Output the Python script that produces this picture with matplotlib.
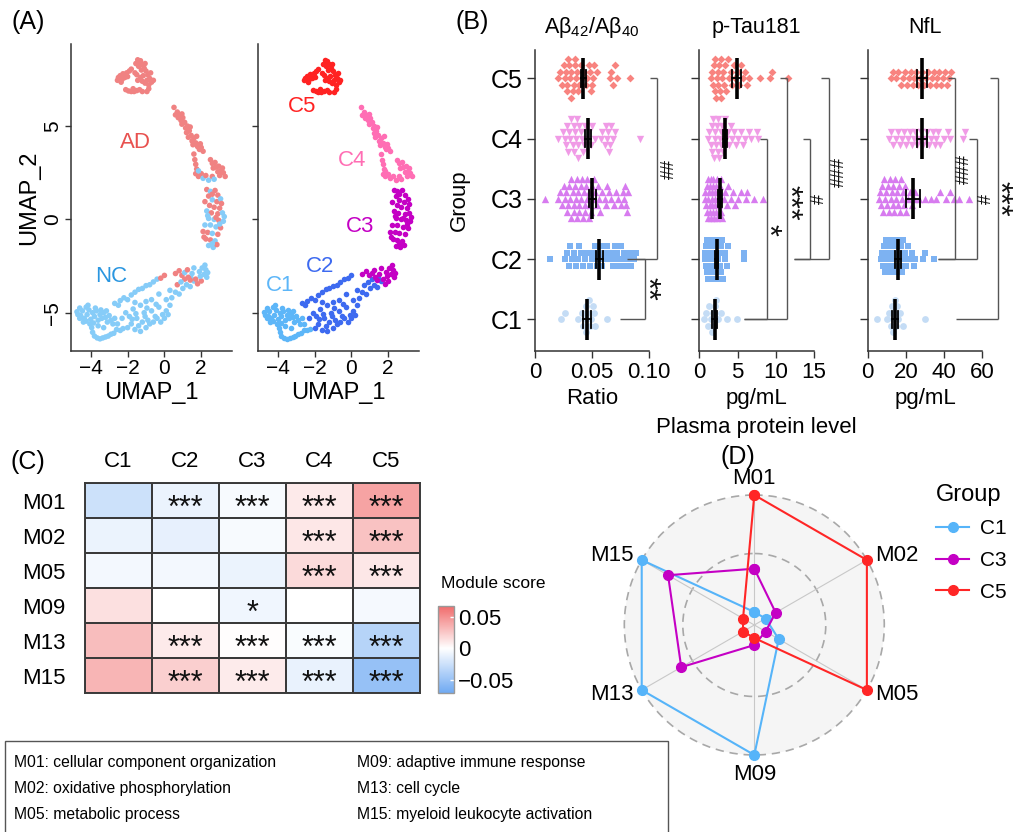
import numpy as np
import matplotlib
matplotlib.use("Agg")
import matplotlib.pyplot as plt
from matplotlib.colors import LinearSegmentedColormap, Normalize
from matplotlib.patches import Rectangle

plt.rcParams['font.family'] = ['Liberation Sans', 'DejaVu Sans']
plt.rcParams['axes.unicode_minus'] = True

W, H = 1013, 832
fig = plt.figure(figsize=(W / 100, H / 100), dpi=100)


def px_axes(x0, y0, x1, y1, **kw):
    return fig.add_axes([x0 / W, 1 - y1 / H, (x1 - x0) / W, (y1 - y0) / H], **kw)


def ftext(x, y, s, **kw):
    return fig.text(x / W, 1 - y / H, s, **kw)

# ======================= DATA =======================
# ---- Panel A : UMAP embedding (x, y, diagnosis A=AD / N=NC) per cluster
umap_c1 = [(-4.75, -4.95, 'N'), (-4.60, -4.75, 'N'), (-4.55, -5.15, 'N'), (-4.45, -4.90, 'N'), (-4.35, -5.30, 'N'),
           (-4.25, -4.70, 'N'), (-4.20, -5.10, 'N'), (-4.10, -4.85, 'N'), (-4.00, -5.35, 'N'), (-3.90, -5.00, 'N'),
           (-3.80, -5.20, 'N'), (-3.70, -4.90, 'N'), (-3.60, -5.40, 'N'), (-3.50, -5.10, 'N'), (-3.40, -5.30, 'N'),
           (-3.30, -5.00, 'N'), (-3.20, -5.25, 'N'), (-3.10, -5.50, 'N'), (-3.00, -5.15, 'N'), (-2.90, -5.40, 'N'),
           (-2.80, -5.60, 'N'), (-2.70, -5.30, 'N'), (-2.60, -5.90, 'N'), (-2.40, -5.95, 'N'), (-2.25, -5.85, 'N'),
           (-3.95, -5.80, 'N'), (-3.90, -6.05, 'N'), (-3.80, -6.25, 'N'), (-3.65, -6.35, 'N'), (-3.50, -6.40, 'N'),
           (-3.35, -6.35, 'N'), (-3.20, -6.30, 'N'), (-3.05, -6.25, 'N'), (-2.90, -6.15, 'N'), (-2.75, -6.10, 'N'),
           (-4.05, -5.60, 'N'), (-3.60, -5.70, 'N'), (-3.30, -5.80, 'N'), (-4.40, -5.50, 'N'), (-4.60, -5.30, 'N'),
           (-4.70, -5.10, 'N'), (-4.15, -4.60, 'N'), (-3.75, -4.75, 'N'), (-3.45, -4.85, 'N'), (-3.15, -4.90, 'N'),
           (-2.55, -5.60, 'N'), (-3.85, -5.55, 'N'), (-4.25, -5.45, 'N')]
umap_c2 = [(-2.70, -4.50, 'N'), (-2.50, -4.60, 'N'), (-2.40, -4.35, 'N'), (-2.20, -4.20, 'N'), (-2.00, -4.30, 'N'),
           (-1.80, -4.05, 'N'), (-1.60, -3.90, 'N'), (-1.40, -3.75, 'N'), (-1.20, -3.70, 'N'), (-1.00, -3.55, 'N'),
           (-0.80, -3.50, 'N'), (-0.60, -3.35, 'N'), (-0.40, -3.20, 'N'), (-0.20, -3.15, 'A'), (0.00, -3.00, 'A'),
           (-2.10, -5.00, 'N'), (-1.90, -5.20, 'N'), (-1.70, -4.80, 'N'), (-1.50, -5.30, 'N'), (-1.30, -4.60, 'N'),
           (-1.10, -5.00, 'N'), (-0.90, -5.40, 'N'), (-0.70, -4.90, 'N'), (-0.50, -5.20, 'N'), (-0.30, -4.70, 'N'),
           (-0.10, -5.10, 'N'), (0.10, -4.90, 'N'), (0.30, -4.60, 'N'), (-2.00, -5.80, 'N'), (-1.80, -5.60, 'N'),
           (-1.60, -5.90, 'N'), (-1.40, -5.70, 'N'), (-1.20, -5.50, 'N'), (-1.00, -5.80, 'N'), (-0.80, -5.60, 'N'),
           (-0.60, -5.50, 'N'), (-0.40, -5.30, 'N'), (-0.20, -5.50, 'N'), (0.00, -5.30, 'N'), (-1.30, -6.00, 'N'),
           (0.40, -4.20, 'N'), (0.60, -3.90, 'N'), (0.80, -4.00, 'N'), (1.00, -3.70, 'N'), (1.20, -3.50, 'N'),
           (1.40, -3.60, 'N'), (1.60, -3.30, 'N'), (0.70, -3.50, 'A'), (1.10, -3.20, 'A'), (0.30, -3.80, 'N'),
           (-0.70, -4.30, 'N'), (-1.00, -4.40, 'N'), (-0.30, -4.00, 'N'), (0.10, -4.30, 'N'), (-1.60, -4.45, 'N'),
           (-2.30, -5.30, 'N'), (-1.75, -5.35, 'N'), (-1.05, -5.20, 'N'), (-0.45, -4.55, 'N'), (0.20, -5.10, 'N'),
           (-0.95, -4.75, 'N'), (0.90, -3.35, 'N'), (1.45, -3.15, 'N'), (-1.55, -5.05, 'N')]
umap_c3 = [(2.30, 1.60, 'A'), (2.50, 1.50, 'N'), (2.75, 1.55, 'A'), (2.90, 1.30, 'A'), (2.40, 1.25, 'A'),
           (2.60, 1.05, 'N'), (2.20, 0.95, 'A'), (2.85, 0.95, 'A'), (3.05, 1.10, 'N'), (2.45, 0.75, 'A'),
           (2.70, 0.65, 'A'), (3.00, 0.60, 'A'), (2.30, 0.45, 'N'), (2.55, 0.35, 'A'), (2.90, 0.30, 'A'),
           (3.15, 0.35, 'N'), (2.40, 0.05, 'N'), (2.70, 0.00, 'N'), (2.95, -0.05, 'A'), (3.20, -0.10, 'N'),
           (2.20, -0.30, 'N'), (2.50, -0.30, 'N'), (2.80, -0.40, 'N'), (3.05, -0.45, 'A'), (2.10, -0.65, 'A'),
           (2.35, -0.70, 'A'), (2.60, -0.75, 'N'), (2.90, -0.80, 'A'), (2.25, -1.05, 'A'), (2.50, -1.10, 'A'),
           (2.75, -1.15, 'N'), (2.40, -1.40, 'N'), (2.65, -1.50, 'N'), (2.85, -1.35, 'A'),
           (2.60, 1.35, 'A'), (3.10, 0.85, 'A'), (2.35, 0.20, 'N'), (3.00, -0.25, 'N'), (2.15, -0.95, 'A'),
           (2.60, -1.30, 'N'), (2.80, 0.10, 'A'), (3.25, 0.15, 'N'),
           (0.60, -2.90, 'A'), (0.80, -2.75, 'A'), (0.95, -3.00, 'A'), (1.10, -2.85, 'N'), (1.30, -3.10, 'A'),
           (1.50, -2.90, 'N'), (1.70, -3.20, 'A'), (1.90, -2.80, 'N'), (2.05, -2.60, 'N'), (2.20, -2.45, 'N'),
           (2.15, -2.95, 'N'), (2.00, -3.30, 'A'), (1.80, -3.45, 'A'), (2.30, -3.10, 'N'), (1.60, -2.60, 'N'),
           (1.25, -2.70, 'A'), (2.25, -2.70, 'N'), (1.95, -3.05, 'N'), (2.35, -2.85, 'N'), (1.40, -3.25, 'A')]
umap_c4 = [(0.52, 6.00, 'A'), (0.60, 5.60, 'A'), (0.70, 5.75, 'A'), (0.75, 5.45, 'A'), (0.85, 5.60, 'A'),
           (0.90, 5.30, 'A'), (1.00, 5.45, 'A'), (0.95, 5.10, 'A'), (1.10, 5.20, 'A'), (1.15, 4.90, 'A'),
           (1.25, 5.00, 'A'), (1.20, 4.65, 'A'), (1.35, 4.75, 'A'), (1.30, 4.40, 'A'), (1.45, 4.50, 'A'),
           (1.50, 4.20, 'A'), (1.60, 4.35, 'A'), (1.55, 4.00, 'A'), (1.70, 4.10, 'A'), (1.80, 3.90, 'A'),
           (1.90, 3.75, 'A'), (2.00, 3.85, 'A'), (2.10, 3.65, 'A'), (1.60, 3.50, 'A'), (1.65, 3.20, 'A'),
           (1.70, 2.95, 'A'), (1.75, 2.70, 'A'), (1.70, 2.45, 'A'), (2.50, 3.20, 'A'), (2.60, 3.00, 'A'),
           (2.75, 3.05, 'A'), (2.80, 2.80, 'A'), (2.95, 2.85, 'A'), (3.05, 2.60, 'A'), (3.20, 2.50, 'A'),
           (3.30, 2.30, 'A'), (2.90, 2.55, 'A'), (3.15, 2.75, 'A'), (1.85, 2.30, 'A'), (2.00, 2.45, 'A'),
           (2.10, 2.20, 'N'), (2.25, 2.35, 'A'), (2.40, 2.10, 'N'), (2.60, 2.30, 'A'), (2.70, 2.15, 'N'),
           (0.95, 5.65, 'A'), (1.40, 4.95, 'A'), (1.75, 4.45, 'A'), (1.95, 4.05, 'A'), (2.65, 2.75, 'A'),
           (3.00, 2.35, 'A'), (1.85, 2.60, 'N')]
umap_c5 = [(-2.50, 7.60, 'A'), (-2.40, 7.70, 'A'), (-2.30, 7.50, 'A'), (-2.25, 7.80, 'A'), (-2.15, 7.60, 'A'),
           (-2.05, 7.85, 'A'), (-2.00, 7.65, 'A'), (-2.35, 7.35, 'A'), (-1.90, 7.95, 'A'), (-1.80, 8.05, 'A'),
           (-1.45, 8.55, 'A'), (-1.35, 8.40, 'A'), (-1.30, 8.50, 'A'), (-1.20, 8.30, 'A'), (-1.40, 8.20, 'A'),
           (-1.10, 8.10, 'A'), (-1.25, 8.00, 'A'), (-1.00, 7.95, 'A'), (-0.90, 7.75, 'A'), (-0.80, 7.55, 'A'),
           (-0.95, 7.45, 'A'), (-0.70, 7.35, 'A'), (-1.05, 7.30, 'A'), (-0.85, 7.20, 'A'), (-1.15, 7.70, 'A'),
           (-1.30, 7.60, 'A'), (-1.20, 7.40, 'A'), (-0.60, 7.45, 'A'), (-1.50, 7.75, 'A'), (-1.60, 7.85, 'A'),
           (-2.10, 6.95, 'A'), (-1.95, 6.88, 'A'), (-1.80, 6.85, 'A'), (-1.65, 6.85, 'A'), (-1.50, 6.90, 'A'),
           (-1.35, 6.95, 'A'), (-1.70, 7.00, 'A'), (-1.20, 6.85, 'A'), (-0.95, 6.85, 'A'), (-0.85, 7.00, 'A'),
           (-2.55, 7.45, 'A'), (-1.55, 8.35, 'A'), (-1.05, 8.35, 'A'), (-0.75, 7.85, 'A'), (-1.45, 7.45, 'A')]
cluster_names = ["C1", "C2", "C3", "C4", "C5"]

# ---- Panel B : plasma protein levels per cluster
ab_c1 = [0.023, 0.026, 0.038, 0.041, 0.0425, 0.0435, 0.0445, 0.045, 0.046, 0.047, 0.048, 0.049, 0.0505, 0.0515,
         0.053, 0.063]
ab_c2 = [0.013, 0.0265, 0.028, 0.030, 0.031, 0.0325, 0.0345, 0.036, 0.038, 0.039, 0.0405, 0.042, 0.0435, 0.046,
         0.048, 0.050, 0.051, 0.0525, 0.054, 0.055, 0.0565, 0.058, 0.059, 0.0605, 0.062, 0.0635, 0.066, 0.067, 0.068,
         0.070, 0.071, 0.072, 0.074, 0.075, 0.076, 0.078, 0.079, 0.082, 0.083, 0.084, 0.087, 0.089]
ab_c3 = [0.009, 0.0205, 0.022, 0.024, 0.025, 0.026, 0.0275, 0.028, 0.029, 0.030, 0.031, 0.0315, 0.032, 0.033, 0.034,
         0.0345, 0.035, 0.036, 0.0365, 0.037, 0.038, 0.0385, 0.039, 0.040, 0.0405, 0.041, 0.042, 0.043, 0.0435, 0.044,
         0.045, 0.0455, 0.046, 0.047, 0.0475, 0.048, 0.049, 0.050, 0.051, 0.052, 0.053, 0.054, 0.055, 0.056, 0.057,
         0.059, 0.061, 0.062, 0.063, 0.065, 0.067, 0.069, 0.071, 0.073, 0.075, 0.077, 0.078, 0.079, 0.080, 0.081, 0.082]
ab_c4 = [0.020, 0.0245, 0.026, 0.0275, 0.028, 0.029, 0.030, 0.031, 0.032, 0.033, 0.034, 0.0345, 0.035, 0.036, 0.037,
         0.0375, 0.038, 0.039, 0.040, 0.041, 0.042, 0.043, 0.044, 0.046, 0.047, 0.049, 0.050, 0.053, 0.058, 0.059,
         0.061, 0.062, 0.063, 0.064, 0.065, 0.066, 0.067, 0.068, 0.070, 0.092]
ab_c5 = [0.0205, 0.022, 0.0235, 0.025, 0.026, 0.027, 0.028, 0.0285, 0.029, 0.030, 0.031, 0.0315, 0.032, 0.033, 0.034,
         0.035, 0.0355, 0.036, 0.037, 0.038, 0.039, 0.040, 0.041, 0.043, 0.045, 0.046, 0.047, 0.048, 0.049, 0.050,
         0.051, 0.052, 0.054, 0.066, 0.067, 0.068, 0.070, 0.072, 0.083]
ab_mean = [0.0453, 0.0565, 0.0503, 0.0468, 0.0424]
ab_sem = [0.0035, 0.0032, 0.0030, 0.0026, 0.0022]

pt_c1 = [0.6, 0.9, 1.1, 1.3, 1.5, 1.6, 1.8, 1.9, 2.1, 2.2, 2.5, 2.8, 3.6, 4.9]
pt_c2 = [0.7, 0.8, 0.85, 0.9, 1.0, 1.05, 1.1, 1.15, 1.2, 1.3, 1.35, 1.4, 1.45, 1.5, 1.55, 1.6, 1.7, 1.75, 1.8, 1.85,
         1.9, 2.0, 2.05, 2.1, 2.2, 2.3, 2.35, 2.4, 2.5, 2.6, 2.7, 2.8, 2.9, 3.0, 3.1, 3.3, 3.4, 3.6, 3.7, 5.8, 5.9]
pt_c3 = [0.7, 0.8, 0.9, 1.0, 1.05, 1.1, 1.15, 1.2, 1.3, 1.35, 1.4, 1.45, 1.5, 1.55, 1.6, 1.65, 1.7, 1.75, 1.8, 1.85,
         1.9, 2.0, 2.05, 2.1, 2.15, 2.2, 2.3, 2.35, 2.4, 2.5, 2.6, 2.7, 2.8, 2.9, 3.0, 3.2, 3.4, 3.6, 3.8, 4.1, 4.4,
         4.7, 5.0, 5.4, 6.1, 6.3, 7.2, 8.3]
pt_c4 = [1.2, 1.3, 1.5, 1.6, 1.7, 1.8, 1.9, 2.0, 2.1, 2.2, 2.3, 2.4, 2.5, 2.6, 2.7, 2.8, 2.9, 3.0, 3.1, 3.3, 3.5,
         3.7, 3.9, 4.1, 4.3, 4.5, 4.8, 5.1, 5.4, 5.7, 6.0, 6.5, 6.8, 7.5, 7.7]
pt_c5 = [1.5, 1.6, 1.8, 1.9, 2.0, 2.1, 2.2, 2.3, 2.4, 2.5, 2.6, 2.7, 2.8, 2.9, 3.0, 3.1, 3.2, 3.4, 3.5, 3.7, 3.9,
         4.1, 4.3, 4.5, 4.7, 5.0, 5.2, 5.4, 5.7, 6.0, 6.2, 6.5, 7.9, 9.2, 9.5, 11.6]
pt_mean = [2.0, 2.27, 2.71, 3.36, 4.89]
pt_sem = [0.3, 0.2, 0.2, 0.3, 0.6]

nf_c1 = [5, 10, 11, 12, 12.5, 13, 13.5, 14, 14.5, 15, 15.5, 16, 17, 18.5, 30]
nf_c2 = [7, 7.5, 8, 8.5, 9, 9.5, 10, 10.5, 11, 11.5, 12, 12.5, 13, 13.5, 14, 14.5, 15, 15.5, 16, 16.5, 17, 17.5, 18,
         18.5, 19, 19.5, 20, 21, 22, 23, 24, 25, 29, 30, 34.5]
nf_c3 = [6, 6.5, 7, 7.5, 8, 8.5, 9, 9.5, 10, 10.5, 11, 11.5, 12, 12.5, 13, 13.5, 14, 14.5, 15, 15.5, 16, 16.5, 17,
         17.5, 18, 18.5, 19, 19.5, 20, 21, 22, 23, 24, 25, 27, 30, 33, 36, 38, 41, 43, 45, 48, 53]
nf_c4 = [11, 12, 13.5, 15, 16, 17, 18, 19, 20, 21, 22, 23, 24, 25, 26, 27, 28, 29, 30, 31, 32, 33, 34, 35, 36, 37, 38,
         40, 42, 43, 50, 51]
nf_c5 = [12, 13, 15, 16, 17.5, 18.5, 19.5, 20.5, 21.5, 22.5, 23.5, 24.5, 25.5, 26.5, 27.5, 28.5, 29.5, 30.5, 31.5,
         32.5, 33.5, 34.5, 35.5, 36.5, 37.5, 38.5, 39.5, 40.5, 41.5, 42.5, 43.5]
nf_mean = [14.3, 15.7, 23.6, 28.3, 28.3]
nf_sem = [1.6, 1.5, 3.7, 2.6, 2.6]

ab_tests = [("C1", "C2", "**"), ("C2", "C5", "##")]
pt_tests = [("C1", "C4", "*"), ("C1", "C5", "***"), ("C2", "C4", "#"), ("C2", "C5", "###")]
nf_tests = [("C2", "C5", "###"), ("C2", "C4", "#"), ("C1", "C5", "***")]

# ---- Panel C : module scores (rows = modules, cols = clusters)
modules = ["M01", "M02", "M05", "M09", "M13", "M15"]
score_m01 = [-0.025, -0.010, -0.004, 0.010, 0.042]
score_m02 = [-0.010, -0.012, -0.004, 0.011, 0.028]
score_m05 = [-0.006, -0.006, -0.010, 0.017, 0.011]
score_m09 = [0.014, 0.000, -0.007, 0.000, -0.005]
score_m13 = [0.030, 0.010, 0.001, -0.003, -0.036]
score_m15 = [0.034, 0.022, 0.009, -0.011, -0.052]
sig_m01 = ["", "***", "***", "***", "***"]
sig_m02 = ["", "", "", "***", "***"]
sig_m05 = ["", "", "", "***", "***"]
sig_m09 = ["", "", "*", "", ""]
sig_m13 = ["", "***", "***", "***", "***"]
sig_m15 = ["", "***", "***", "***", "***"]

# ---- Panel D : radar (scaled 0..1 per module)
radar_groups = ["C1", "C3", "C5"]
radar_c1 = [0.0, 0.0, 0.13, 1.0, 1.0, 1.0]
radar_c3 = [0.37, 0.10, 0.0, 0.06, 0.61, 0.74]
radar_c5 = [1.0, 1.0, 1.0, 0.0, 0.0, 0.0]

module_desc_left = ["M01: cellular component organization", "M02: oxidative phosphorylation",
                    "M05: metabolic process"]
module_desc_right = ["M09: adaptive immune response", "M13: cell cycle", "M15: myeloid leukocyte activation"]

# ======================= STYLE =======================
dx_col = {'A': '#F08282', 'N': '#86CCF8'}
cl_col = ['#5DB6F8', '#3D6AF0', '#C400C4', '#FF6EB4', '#FF2222']
sw_col = ['#C4DCF5', '#7DB2F2', '#D77BEF', '#F09BE6', '#F8837F']
sw_mark = ['o', 's', '^', 'v', 'D']
sw_size = [24, 22, 28, 28, 16]
axis_col = '#333333'
FS = 16

# ======================= PANEL A =======================
clusters = [umap_c1, umap_c2, umap_c3, umap_c4, umap_c5]


def style_umap(ax, ylabels=True):
    ax.set_xlim(-5.09, 3.67)
    ax.set_ylim(-7.05, 9.38)
    for s in ['top', 'right']:
        ax.spines[s].set_visible(False)
    for s in ['left', 'bottom']:
        ax.spines[s].set_color(axis_col)
        ax.spines[s].set_linewidth(1.1)
    ax.set_xticks([-4, -2, 0, 2])
    ax.set_yticks([-5, 0, 5])
    ax.tick_params(length=4, width=1, color=axis_col, labelsize=15, pad=2)
    ax.set_xlabel("UMAP_1", fontsize=FS + 1, labelpad=3)
    if not ylabels:
        ax.set_yticklabels([])
    else:
        for lab in ax.get_yticklabels():
            lab.set_rotation(90)
            lab.set_va('center')


axA1 = px_axes(70.7, 44.3, 232, 351)
axA2 = px_axes(257.7, 44.3, 419, 351)
for pts in clusters:
    arr = np.array([(p[0], p[1]) for p in pts])
    axA1.scatter(arr[:, 0], arr[:, 1], s=16, c=[dx_col[p[2]] for p in pts], linewidths=0)
for k, pts in enumerate(clusters):
    arr = np.array([(p[0], p[1]) for p in pts])
    axA2.scatter(arr[:, 0], arr[:, 1], s=16, c=cl_col[k], linewidths=0)
style_umap(axA1, True)
style_umap(axA2, False)
axA1.set_ylabel("UMAP_2", fontsize=FS + 1, labelpad=2)
axA1.text(-1.6, 4.1, "AD", color='#E8514F', fontsize=FS, ha='center', va='center')
axA1.text(-2.9, -3.07, "NC", color='#2A96E0', fontsize=FS, ha='center', va='center')
lab_pos = [(-3.87, -3.52), (-1.70, -2.54), (0.47, -0.39), (0.01, 3.18), (-2.70, 6.04)]
for k, name in enumerate(cluster_names):
    axA2.text(lab_pos[k][0], lab_pos[k][1], name, color=cl_col[k], fontsize=FS, ha='center', va='center')

# ======================= PANEL B =======================


def swarm_offsets(ax, vals, d_px, gap_px):
    t0 = ax.transData.transform((0, 0))
    sx = abs(ax.transData.transform((1, 0))[0] - t0[0])
    sy = abs(ax.transData.transform((0, 1))[1] - t0[1])
    xs = np.asarray(vals, float)
    order = np.argsort(xs, kind='stable')
    rows = {}
    off = np.zeros(len(xs))
    cand_rows = [0, 1, -1, 2, -2, 3, -3]
    for i in order:
        xp = xs[i] * sx
        best, best_d = 0, -1.0
        for c in cand_rows:
            q = rows.get(c, [])
            dmin = min((abs(xp - v) for v in q), default=np.inf)
            if dmin >= gap_px:
                best = c
                break
            if dmin > best_d:
                best_d, best = dmin, c
        rows.setdefault(best, []).append(xp)
        off[i] = best * d_px / sy
    return off


def bracket(ax, ya, yb, xa, xb, xv, label, xt, yt, fs):
    kw = dict(color='#555555', lw=1.0, clip_on=False, solid_capstyle='butt')
    ax.plot([xa, xv], [ya, ya], **kw)
    ax.plot([xb, xv], [yb, yb], **kw)
    ax.plot([xv, xv], [ya, yb], **kw)
    rot = 270 if '*' in label else 90
    ax.text(xt, yt, label, rotation=rot, ha='center', va='center', fontsize=fs, clip_on=False, color='#111111')


def panel_b(x0, x1, xmax, xticks, xticklabels, groups, means, sems, title, xlabel, show_y):
    ax = px_axes(x0, 50, x1, 350.7)
    ax.set_xlim(0, xmax)
    ax.set_ylim(0.48, 5.47)
    for k, vals in enumerate(groups):
        off = swarm_offsets(ax, vals, 6.5, 5.5)
        ax.scatter(vals, (k + 1) + off, s=sw_size[k], marker=sw_mark[k], c=sw_col[k], linewidths=0, zorder=2,
                   clip_on=False)
        m, e = means[k], sems[k]
        ax.plot([m, m], [k + 1 - 0.34, k + 1 + 0.34], color='black', lw=2.6, zorder=5, solid_capstyle='butt')
        ax.plot([m - e, m + e], [k + 1, k + 1], color='black', lw=1.3, zorder=5)
        for xe in (m - e, m + e):
            ax.plot([xe, xe], [k + 1 - 0.14, k + 1 + 0.14], color='black', lw=1.3, zorder=5)
    for s in ['top', 'right']:
        ax.spines[s].set_visible(False)
    for s in ['left', 'bottom']:
        ax.spines[s].set_color(axis_col)
        ax.spines[s].set_linewidth(1.1)
    ax.spines['bottom'].set_bounds(0, xmax)
    ax.set_xticks(xticks)
    ax.set_xticklabels(xticklabels)
    ax.set_yticks([1, 2, 3, 4, 5])
    ax.set_yticklabels(cluster_names if show_y else [])
    ax.tick_params(axis='y', length=6, width=1, color=axis_col, labelsize=FS + 2, pad=3)
    ax.tick_params(axis='x', length=5, width=1, color=axis_col, labelsize=FS, pad=3)
    ax.set_title(title, fontsize=FS - 0.5, pad=12)
    ax.set_xlabel(xlabel, fontsize=FS, labelpad=4)
    return ax


axB1 = panel_b(535, 649, 0.10, [0, 0.05, 0.10], ['0', '0.05', '0.10'],
               [ab_c1, ab_c2, ab_c3, ab_c4, ab_c5], ab_mean, ab_sem,
               r"A$\mathregular{\beta_{42}}$/A$\mathregular{\beta_{40}}$", "Ratio", True)
axB2 = panel_b(699.3, 814, 15, [0, 5, 10, 15], ['0', '5', '10', '15'],
               [pt_c1, pt_c2, pt_c3, pt_c4, pt_c5], pt_mean, pt_sem, "p-Tau181", "pg/mL", False)
axB3 = panel_b(867.7, 982.3, 60, [0, 20, 40, 60], ['0', '20', '40', '60'],
               [nf_c1, nf_c2, nf_c3, nf_c4, nf_c5], nf_mean, nf_sem, "NfL", "pg/mL", False)
axB1.set_ylabel("Group", fontsize=FS)
axB1.yaxis.set_label_coords(-0.57, 0.5)

gi = {n: i + 1 for i, n in enumerate(cluster_names)}
ab_geom = [(0.0746, 0.0807, 0.0965, 0.0970, 1.5), (0.0886, 0.1009, 0.107, 0.1175, 3.5)]
pt_geom = [(5.85, 7.94, 8.81, 8.85, 2.48), (5.85, 10.6, 11.43, 11.6, 2.93),
           (12.32, 13.51, 14.48, 15.65, 3.0), (12.32, 15.91, 16.96, 18.27, 3.45)]
nf_geom = [(36.6, 41.9, 45.7, 50.6, 3.5), (36.6, 53.0, 57.4, 61.9, 3.0), (46.2, 64.0, 68.1, 68.3, 3.0)]
for ax, tests, geom in [(axB1, ab_tests, ab_geom), (axB2, pt_tests, pt_geom), (axB3, nf_tests, nf_geom)]:
    for (ga, gb, lab), (xa, xb, xv, xt, yt) in zip(tests, geom):
        fs = 22 if '*' in lab else 13
        bracket(ax, gi[ga], gi[gb], xa, xb, xv, lab, xt, yt, fs)

ftext(756.7, 427, "Plasma protein level", fontsize=FS, ha='center', va='center')

# ======================= PANEL C =======================
scores = np.array([score_m01, score_m02, score_m05, score_m09, score_m13, score_m15])
sigs = [sig_m01, sig_m02, sig_m05, sig_m09, sig_m13, sig_m15]
vmin, vmax = -0.072, 0.068
cmap = LinearSegmentedColormap.from_list('ms', [(0.0, '#6EA9F2'), (-vmin / (vmax - vmin), '#FFFFFF'),
                                                (1.0, '#F06A6A')])
norm = Normalize(vmin=vmin, vmax=vmax)
axC = px_axes(85, 483.3, 420, 693.3)
mesh = axC.pcolormesh(scores, cmap=cmap, norm=norm, edgecolors='#3A3A3A', linewidth=1.4)
axC.set_xlim(0, 5)
axC.set_ylim(6, 0)
axC.set_xticks(np.arange(5) + 0.5)
axC.set_xticklabels(cluster_names)
axC.set_yticks(np.arange(6) + 0.5)
axC.set_yticklabels(modules)
axC.xaxis.tick_top()
axC.tick_params(axis='y', length=0, labelsize=FS, pad=14)
axC.tick_params(axis='x', length=0, labelsize=FS, pad=8)
for s in axC.spines.values():
    s.set_color('#3A3A3A')
    s.set_linewidth(1.4)
for i in range(6):
    for j in range(5):
        if sigs[i][j]:
            axC.text(j + 0.5, i + 0.74, sigs[i][j], ha='center', va='center', fontsize=22, color='#111111')

cax = px_axes(438, 605.7, 454, 693.3)
cb = fig.colorbar(mesh, cax=cax)
cb.set_ticks([0.05, 0, -0.05])
cb.set_ticklabels(['0.05', '0', '\u22120.05'])
cb.outline.set_edgecolor('#999999')
cb.outline.set_linewidth(1.0)
cax.tick_params(length=3, width=1, color='white', direction='in', labelsize=FS, pad=3)
ftext(441, 583, "Module score", fontsize=12.5, ha='left', va='center')

# ======================= PANEL D =======================
cx, cy, R = 754.3, 625, 130
axD = px_axes(cx - R, cy - R, cx + R, cy + R, projection='polar')
axD.set_theta_zero_location('N')
axD.set_theta_direction(-1)
axD.set_ylim(0, 1.0)
axD.set_facecolor('#F5F5F5')
axD.grid(False)
axD.set_xticks([])
axD.set_yticks([])
axD.spines['polar'].set_visible(False)
n_mod = len(modules)
ang = [2 * np.pi * i / n_mod for i in range(n_mod)]


def rad(v):
    return (v + 1 / 9) / (1 + 1 / 9)


circ_t = np.linspace(0, 2 * np.pi, 400)
for v in (0.5, 1.0):
    axD.plot(circ_t, np.full_like(circ_t, rad(v)), ls=(0, (5, 3.5)), color='#A8A8A8', lw=1.2, clip_on=False,
             zorder=1)
for a in ang:
    axD.plot([a, a], [0, 1.0], color='#C8C8C8', lw=0.8, zorder=1)
radar_cols = ['#56B4F9', '#C400C4', '#FF2626']
handles = []
for vals, col, name in zip([radar_c1, radar_c3, radar_c5], radar_cols, radar_groups):
    rr = [rad(v) for v in vals]
    h, = axD.plot(ang + [ang[0]], rr + [rr[0]], '-o', color=col, lw=1.5, ms=7, clip_on=False, zorder=3,
                  label=name)
    handles.append(h)
lab_spec = [(1.05, 'center', 'bottom'), (1.07, 'left', 'center'), (1.07, 'left', 'center'),
            (1.07, 'center', 'top'), (1.07, 'right', 'center'), (1.07, 'right', 'center')]
for a, m, (r, ha, va) in zip(ang, modules, lab_spec):
    axD.text(a, r, m, ha=ha, va=va, fontsize=FS)
leg = fig.legend(handles=handles, labels=radar_groups, title='Group', loc='upper left',
                 bbox_to_anchor=(936 / W, 1 - 484 / H), frameon=False, fontsize=FS - 1, title_fontsize=FS + 1,
                 handlelength=1.6, handletextpad=0.5, labelspacing=0.62, alignment='left', borderaxespad=0,
                 borderpad=0)

# ======================= PANEL LABELS / LEGEND BOX =======================
ftext(28, 22, "(A)", fontsize=18, ha='center', va='center')
ftext(472, 22, "(B)", fontsize=18, ha='center', va='center')
ftext(28, 462, "(C)", fontsize=18, ha='center', va='center')
ftext(738, 457, "(D)", fontsize=18, ha='center', va='center')

fig.patches.append(Rectangle((5 / W, -0.05), (668 - 5) / W, (1 - 741 / H) + 0.05, transform=fig.transFigure,
                             fill=False, edgecolor='#555555', lw=1.0))
for i, s in enumerate(module_desc_left):
    ftext(14, 763 + 26 * i, s, fontsize=11.3, ha='left', va='center')
for i, s in enumerate(module_desc_right):
    ftext(357, 763 + 26 * i, s, fontsize=11.3, ha='left', va='center')

fig.savefig("out.png", dpi=100)
